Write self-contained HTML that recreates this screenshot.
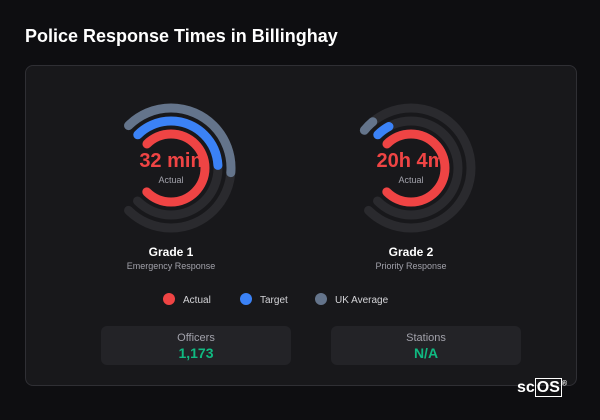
<!DOCTYPE html>
<html><head><style>
body{margin:0;width:600px;height:420px;background:#0e0e11;font-family:"Liberation Sans",sans-serif;overflow:hidden;position:relative}
.t{position:absolute;left:25px;top:26px;color:#fff;font-size:18px;font-weight:bold}
.card{position:absolute;left:25px;top:65px;width:550px;height:319px;background:#18181b;border:1px solid #2f2f34;border-radius:8px}
.box{position:absolute;top:326px;width:190px;height:39px;background:#232327;border-radius:6px;text-align:center}
.box .l{color:#a1a1aa;font-size:11px;margin-top:6px}
.box .v{color:#10b981;font-size:14px;font-weight:bold;margin-top:1px}
.logo{position:absolute;left:517px;top:379px;color:#fff;font-size:16px;font-weight:bold}
</style></head><body>
<div class="t">Police Response Times in Billinghay</div>
<div class="card"></div>
<svg width="600" height="420" style="position:absolute;left:0;top:0">
<g fill="none" stroke-width="9" stroke-linecap="round">
<g transform="translate(171,168) rotate(-135)">
<circle r="60" stroke="#2a2a2e" stroke-dasharray="282.7 1000"/>
<circle r="47" stroke="#2a2a2e" stroke-dasharray="221.5 1000"/>
<circle r="34" stroke="#2a2a2e" stroke-dasharray="160.2 1000"/>
<circle r="60" stroke="#64748b" stroke-dasharray="146 1000"/>
<circle r="47" stroke="#3b82f6" stroke-dasharray="108 1000"/>
<circle r="34" stroke="#ef4444" stroke-dasharray="160.2 1000"/>
</g>
<g transform="translate(411,168) rotate(-135)">
<circle r="60" stroke="#2a2a2e" stroke-dasharray="282.7 1000"/>
<circle r="47" stroke="#2a2a2e" stroke-dasharray="221.5 1000"/>
<circle r="34" stroke="#2a2a2e" stroke-dasharray="160.2 1000"/>
<circle r="60" stroke="#64748b" stroke-dasharray="12 1000" transform="rotate(-6)"/>
<circle r="47" stroke="#3b82f6" stroke-dasharray="14 1000"/>
<circle r="34" stroke="#ef4444" stroke-dasharray="160.2 1000"/>
</g>
</g>
<g font-family="Liberation Sans,sans-serif" text-anchor="middle">
<text x="171" y="167" fill="#ef4444" font-size="20" font-weight="bold">32 min</text>
<text x="171" y="183" fill="#a1a1aa" font-size="9">Actual</text>
<text x="411" y="167" fill="#ef4444" font-size="20" font-weight="bold">20h 4m</text>
<text x="411" y="183" fill="#a1a1aa" font-size="9">Actual</text>
<text x="171" y="256" fill="#fff" font-size="12" font-weight="bold">Grade 1</text>
<text x="171" y="269" fill="#a1a1aa" font-size="9">Emergency Response</text>
<text x="411" y="256" fill="#fff" font-size="12" font-weight="bold">Grade 2</text>
<text x="411" y="269" fill="#a1a1aa" font-size="9">Priority Response</text>
</g>
<g font-family="Liberation Sans,sans-serif" font-size="10" fill="#d4d4d8">
<circle cx="169" cy="299" r="6" fill="#ef4444"/><text x="183" y="303">Actual</text>
<circle cx="246" cy="299" r="6" fill="#3b82f6"/><text x="260" y="303">Target</text>
<circle cx="321" cy="299" r="6" fill="#64748b"/><text x="335" y="303">UK Average</text>
</g>
</svg>
<div class="box" style="left:101px"><div class="l">Officers</div><div class="v">1,173</div></div>
<div class="box" style="left:331px"><div class="l">Stations</div><div class="v">N/A</div></div>
<div class="logo">sc<span style="border:1.5px solid #fff;padding:0 1px">OS</span><sup style="font-size:7px">®</sup></div>
</body></html>
